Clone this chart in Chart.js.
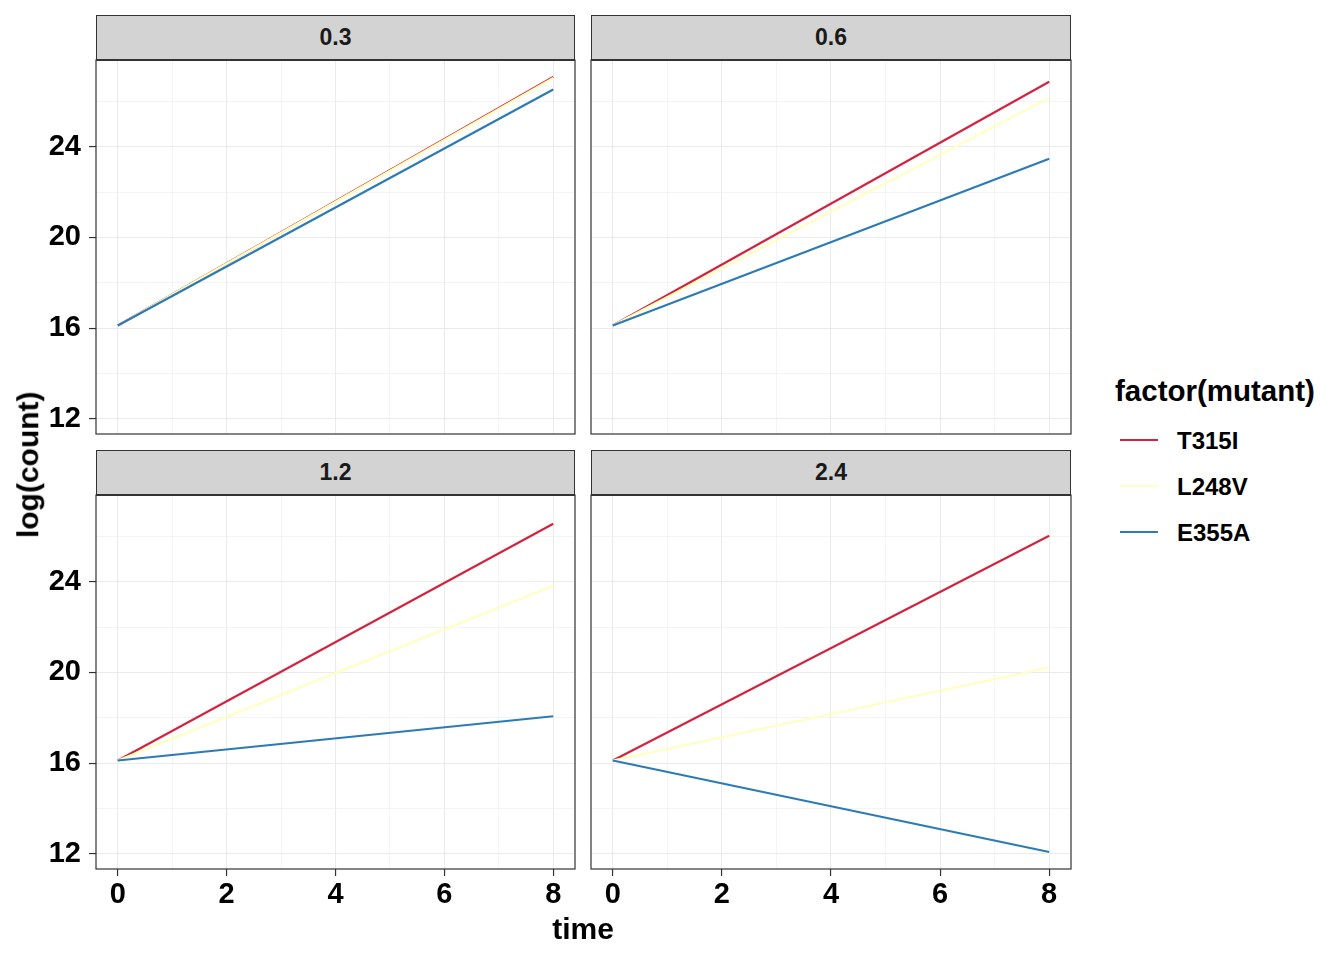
<!DOCTYPE html>
<html>
<head>
<meta charset="utf-8">
<script src="https://cdn.jsdelivr.net/npm/chart.js@4/dist/chart.umd.min.js"></script>
<style>
  body { margin: 0; background: #fff; font-family: "Liberation Sans", Arial, sans-serif; }
  #wrap { position: relative; width: 1344px; height: 960px; overflow: hidden; }
  canvas { position: absolute; }
  .strip { position: absolute; box-sizing: border-box; background: #D3D3D3; border: 1px solid #333;
           border-bottom: 2px solid #333; font-weight: bold; font-size: 23px; color: #1A1A1A;
           text-align: center; line-height: 43px; }
  .txt { position: absolute; font-weight: bold; color: #000; white-space: nowrap; line-height: 1.117; }
  .key { position: absolute; width: 38px; height: 2px; }
</style>
</head>
<body>
<div id="wrap"></div>
<script>
// data: log(count) at time 0 and time 8, one pair per dose panel
var times = [0, 8];
var doses = ["0.3", "0.6", "1.2", "2.4"];
var mutants = ["T315I", "L248V", "E355A"];
var colors = ["#D42340", "#FFFFBF", "#2C7BB6"];
var T315I = [[16.12, 27.07], [16.12, 26.86], [16.12, 26.55], [16.12, 26.02]];
var L248V = [[16.12, 27.03], [16.12, 26.15], [16.12, 23.82], [16.12, 20.22]];
var E355A = [[16.12, 26.52], [16.12, 23.47], [16.12, 18.07], [16.12, 12.09]];
var xTicks = [0, 1, 2, 3, 4, 5, 6, 7, 8];
var yTicks = [12, 14, 16, 18, 20, 22, 24, 26];

var seriesByMutant = [T315I, L248V, E355A];
var wrap = document.getElementById("wrap");

// panel plot areas (left, top, width); all 374 high
var panels = [
  { left: 96, top: 60, w: 479, showX: false, showY: true },
  { left: 591, top: 60, w: 480, showX: false, showY: false },
  { left: 96, top: 495, w: 479, showX: true, showY: true },
  { left: 591, top: 495, w: 480, showX: true, showY: false }
];
var plotH = 374, pad = 2, yw = 96, xh = 50;
var tickFont = { family: "Liberation Sans", weight: "bold", size: 29 };

var borderPlugin = {
  id: "panelBorder",
  afterDraw: function (chart) {
    var a = chart.chartArea, ctx = chart.ctx;
    ctx.save();
    ctx.strokeStyle = "#333333";
    ctx.lineWidth = 1.2;
    ctx.strokeRect(a.left, a.top, a.right - a.left, a.bottom - a.top);
    ctx.restore();
  }
};

function el(cls, css, text) {
  var d = document.createElement("div");
  d.className = cls;
  d.style.cssText = css;
  if (text) d.textContent = text;
  wrap.appendChild(d);
  return d;
}

panels.forEach(function (p, i) {
  var cw = p.w + pad * 2 + (p.showY ? yw : 0);
  var ch = plotH + pad * 2 + (p.showX ? xh : 0);
  var cv = document.createElement("canvas");
  cv.width = cw; cv.height = ch;
  cv.style.left = (p.left - pad - (p.showY ? yw : 0)) + "px";
  cv.style.top = (p.top - pad) + "px";
  cv.style.width = cw + "px"; cv.style.height = ch + "px";
  wrap.appendChild(cv);

  // strip on top of each panel
  el("strip", "left:" + p.left + "px;top:" + (p.top - 45) + "px;width:" + p.w + "px;height:46px;", doses[i]);

  var datasets = mutants.map(function (m, k) {
    return {
      label: m,
      data: times.map(function (t, j) { return { x: t, y: seriesByMutant[k][i][j] }; }),
      borderColor: colors[k],
      borderWidth: 2.2,
      pointRadius: 0,
      tension: 0,
      fill: false,
      order: mutants.length - k // later mutants drawn on top, like ggplot
    };
  });

  new Chart(cv, {
    type: "line",
    data: { datasets: datasets },
    plugins: [borderPlugin],
    options: {
      responsive: false,
      animation: false,
      devicePixelRatio: 1,
      layout: { padding: pad },
      plugins: { legend: { display: false }, tooltip: { enabled: false } },
      scales: {
        x: {
          type: "linear", min: -0.4, max: 8.4,
          afterBuildTicks: function (s) { s.ticks = xTicks.map(function (v) { return { value: v }; }); },
          afterFit: function (s) {
            s.height = p.showX ? xh : 0;
            s.paddingLeft = 0; s.paddingRight = 0;
          },
          border: { display: false },
          grid: {
            color: "#EBEBEB",
            lineWidth: function (c) { return c.tick && c.tick.value % 2 === 0 ? 1.1 : 0.55; },
            drawTicks: p.showX,
            tickLength: 7,
            tickWidth: 1.2,
            tickColor: function (c) { return c.tick && c.tick.value % 2 === 0 ? "#333333" : "rgba(0,0,0,0)"; }
          },
          ticks: {
            display: p.showX, autoSkip: false, maxRotation: 0, padding: 2,
            color: "#000", font: tickFont,
            callback: function (v) { return v % 2 === 0 ? String(v) : ""; }
          }
        },
        y: {
          type: "linear", min: 11.34, max: 27.82,
          afterBuildTicks: function (s) { s.ticks = yTicks.map(function (v) { return { value: v }; }); },
          afterFit: function (s) {
            s.width = p.showY ? yw : 0;
            s.paddingTop = 0; s.paddingBottom = 0;
          },
          border: { display: false },
          grid: {
            color: "#EBEBEB",
            lineWidth: function (c) { return c.tick && c.tick.value % 4 === 0 ? 1.1 : 0.55; },
            drawTicks: p.showY,
            tickLength: 7,
            tickWidth: 1.2,
            tickColor: function (c) { return c.tick && c.tick.value % 4 === 0 ? "#333333" : "rgba(0,0,0,0)"; }
          },
          ticks: {
            display: p.showY, autoSkip: false, padding: 8,
            color: "#000", font: tickFont,
            callback: function (v) { return v % 4 === 0 ? String(v) : ""; }
          }
        }
      }
    }
  });
});

// axis titles
el("txt", "left:523px;top:912px;width:120px;text-align:center;font-size:30px;", "time");
el("txt", "left:-62px;top:448px;width:180px;text-align:center;font-size:30px;transform:rotate(-90deg);", "log(count)");

// legend
el("txt", "left:1115px;top:375px;font-size:29.5px;", "factor(mutant)");
mutants.forEach(function (m, k) {
  var y = 440 + k * 46;
  el("key", "left:1120px;top:" + (y - 1) + "px;background:" + colors[k] + ";");
  el("txt", "left:1177px;top:" + (y - 12.5) + "px;font-size:24px;", m);
});
</script>
</body>
</html>
